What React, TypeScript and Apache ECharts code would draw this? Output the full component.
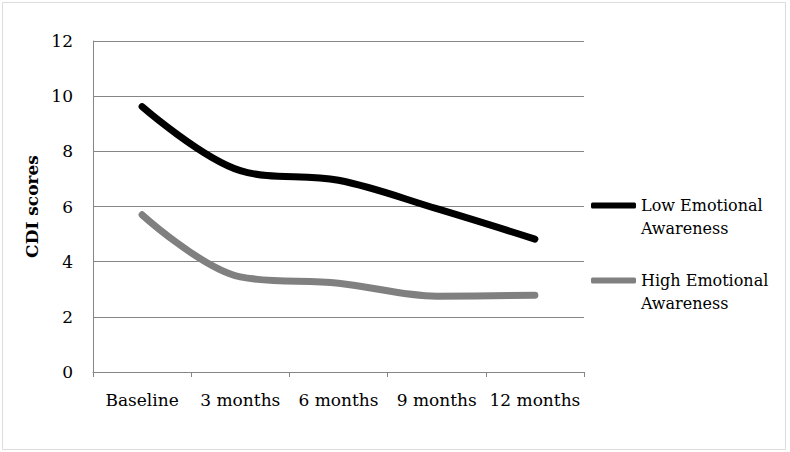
import React, { useEffect, useRef } from "react";
import * as echarts from "echarts";

const categories = ["Baseline", "3 months", "6 months", "9 months", "12 months"];
const lowAwareness = [9.62, 7.3, 6.95, 5.92, 4.82];
const highAwareness = [5.7, 3.45, 3.22, 2.75, 2.78];
const seriesNames = ["Low Emotional Awareness", "High Emotional Awareness"];
const legendLabels: Record<string, string> = {
  "Low Emotional Awareness": "\nLow Emotional\nAwareness",
  "High Emotional Awareness": "\nHigh Emotional\nAwareness",
};

const FONT = "DejaVu Serif";

export default function App() {
  const ref = useRef<HTMLDivElement>(null);
  useEffect(() => {
    document.body.style.margin = "0";
    const chart = echarts.init(ref.current!, null, { renderer: "svg" });
    chart.setOption({
      animation: false,
      backgroundColor: "#ffffff",
      textStyle: { fontFamily: FONT },
      graphic: [
        {
          type: "rect",
          shape: { x: 2.5, y: 2.5, width: 783, height: 447 },
          style: { fill: "none", stroke: "#dcdcdc", lineWidth: 1 },
          silent: true,
        },
      ],
      grid: { left: 93, right: 206, top: 41, bottom: 80 },
      legend: {
        orient: "vertical",
        left: 586,
        top: 166,
        itemWidth: 45,
        itemHeight: 6,
        itemGap: 6,
        icon: "roundRect",
        formatter: (n: string) => legendLabels[n] || n,
        textStyle: {
          fontFamily: FONT,
          fontSize: 16,
          color: "#000",
          lineHeight: 23,
        },
        data: seriesNames,
      },
      xAxis: {
        type: "category",
        data: categories,
        boundaryGap: true,
        axisLine: { lineStyle: { color: "#868686", width: 1 } },
        axisTick: { show: true, length: 5, lineStyle: { color: "#868686" } },
        axisLabel: { color: "#000", fontSize: 17, fontFamily: FONT, margin: 19, interval: 0 },
      },
      yAxis: {
        type: "value",
        min: 0,
        max: 12,
        interval: 2,
        name: "CDI scores",
        nameLocation: "middle",
        nameGap: 50,
        nameTextStyle: { color: "#000", fontSize: 17, fontWeight: "bold", fontFamily: FONT },
        axisLine: { show: true, lineStyle: { color: "#868686", width: 1 } },
        axisTick: { show: false },
        splitLine: { lineStyle: { color: "#868686", width: 1 } },
        axisLabel: { color: "#000", fontSize: 17, fontFamily: FONT, margin: 20 },
      },
      series: [
        {
          name: seriesNames[0],
          type: "line",
          data: lowAwareness,
          smooth: 0.35,
          symbol: "none",
          color: "#000000",
          lineStyle: { width: 7, color: "#000000", cap: "round" },
        },
        {
          name: seriesNames[1],
          type: "line",
          data: highAwareness,
          smooth: 0.35,
          symbol: "none",
          color: "#808080",
          lineStyle: { width: 7, color: "#808080", cap: "round" },
        },
      ],
    });
    return () => chart.dispose();
  }, []);
  return <div ref={ref} style={{ width: 790, height: 452 }} />;
}
